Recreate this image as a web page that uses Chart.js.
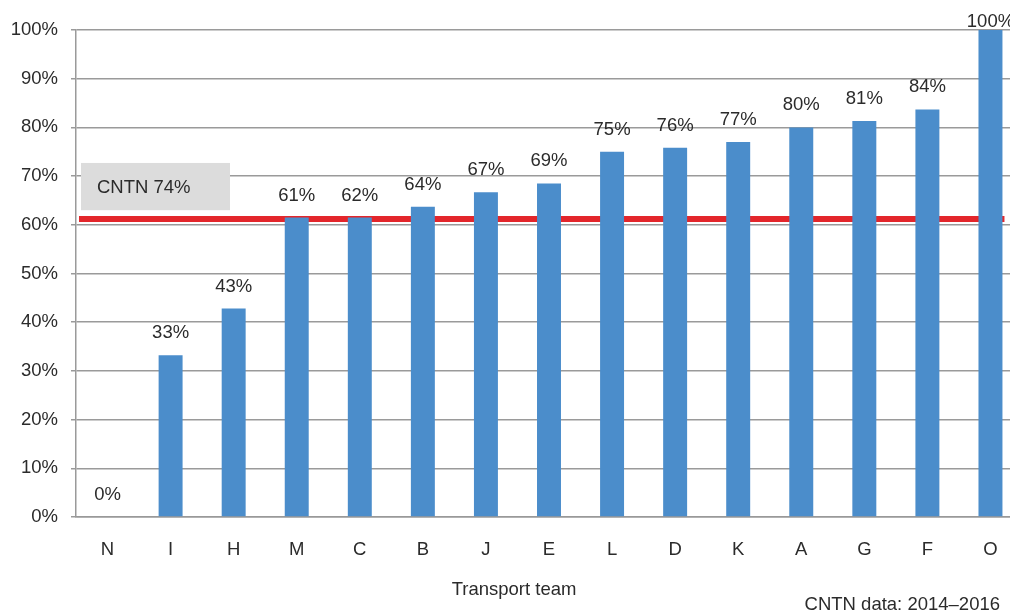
<!DOCTYPE html>
<html>
<head>
<meta charset="utf-8">
<script src="https://cdn.jsdelivr.net/npm/chart.js@4/dist/chart.umd.min.js"></script>
<style>
html,body{margin:0;padding:0;background:#fff;overflow:hidden;width:1010px;height:614px;}
#wrap{width:1022px;height:614px;}
</style>
</head>
<body>
<div id="wrap"><canvas id="c" width="1022" height="614"></canvas></div>
<script>
const categories = ["N","I","H","M","C","B","J","E","L","D","K","A","G","F","O"];
const values = [0, 33.2, 42.8, 61.5, 61.5, 63.7, 66.7, 68.5, 75, 75.8, 77, 80, 81.3, 83.7, 100];
const valueLabels = ["0%","33%","43%","61%","62%","64%","67%","69%","75%","76%","77%","80%","81%","84%","100%"];
const yTicks = [0,10,20,30,40,50,60,70,80,90,100];
const referenceValue = 61.2;
const referenceText = "CNTN 74%";
const referenceBoxRange = [63.0, 72.7];
const axisTitle = "Transport team";
const sourceNote = "CNTN data: 2014\u20132016";

const FONT = '"Liberation Sans", Arial, Helvetica, sans-serif';
const TEXT = '#2b2b2b';
const FS = 18.5;

const overlay = {
  id: 'overlay',
  beforeDatasetsDraw(chart) {
    const {ctx, chartArea, scales} = chart;
    const y = scales.y, x = scales.x;
    ctx.save();
    const bt = y.getPixelForValue(referenceBoxRange[1]);
    const bb = y.getPixelForValue(referenceBoxRange[0]);
    ctx.fillStyle = '#dcdcdc';
    ctx.fillRect(chartArea.left + 5, bt, 149, bb - bt);
    ctx.fillStyle = TEXT;
    ctx.font = FS + 'px ' + FONT;
    ctx.textBaseline = 'middle';
    ctx.textAlign = 'left';
    ctx.fillText(referenceText, chartArea.left + 21, (bt + bb) / 2 + 1);
    const ry = y.getPixelForValue(referenceValue);
    ctx.strokeStyle = '#e3262b';
    ctx.lineWidth = 6;
    ctx.beginPath();
    ctx.moveTo(chartArea.left + 3, ry);
    ctx.lineTo(x.getPixelForValue(categories.length - 1) + 14, ry);
    ctx.stroke();
    ctx.restore();
  },
  afterDatasetsDraw(chart) {
    const {ctx} = chart;
    const meta = chart.getDatasetMeta(0);
    ctx.save();
    ctx.fillStyle = TEXT;
    ctx.font = FS + 'px ' + FONT;
    ctx.textAlign = 'center';
    ctx.textBaseline = 'middle';
    meta.data.forEach((bar, i) => {
      const ty = Math.max(bar.y - 22, 22);
      ctx.fillText(valueLabels[i], bar.x, ty);
    });
    ctx.restore();
  },
  afterDraw(chart) {
    const {ctx} = chart;
    ctx.save();
    ctx.fillStyle = TEXT;
    ctx.font = FS + 'px ' + FONT;
    ctx.textBaseline = 'middle';
    ctx.textAlign = 'center';
    ctx.fillText(axisTitle, 514, 590);
    ctx.textAlign = 'right';
    ctx.fillText(sourceNote, 1000, 605);
    ctx.restore();
  }
};

new Chart(document.getElementById('c'), {
  type: 'bar',
  data: {
    labels: categories,
    datasets: [{
      data: values,
      backgroundColor: '#4b8dcb',
      borderWidth: 0,
      categoryPercentage: 1,
      barPercentage: 0.38
    }]
  },
  options: {
    responsive: false,
    animation: false,
    layout: {padding: {top: 30, left: 0, right: 0, bottom: 0}},
    plugins: {legend: {display: false}, tooltip: {enabled: false}},
    scales: {
      x: {
        grid: {display: false, drawTicks: false},
        border: {display: true, color: '#999999', width: 1.5},
        ticks: {color: TEXT, font: {family: FONT, size: FS}, padding: 22, maxRotation: 0},
        afterFit(scale) { scale.height = 97; }
      },
      y: {
        min: 0, max: 100,
        afterBuildTicks(scale) { scale.ticks = yTicks.map(v => ({value: v})); },
        grid: {color: '#9a9a9a', lineWidth: 1.5, tickLength: 5},
        border: {display: true, color: '#9a9a9a', width: 1.5},
        ticks: {color: TEXT, font: {family: FONT, size: FS}, padding: 13, callback: v => v + '%'},
        afterFit(scale) { scale.width = 76; }
      }
    }
  },
  plugins: [overlay]
});
</script>
</body>
</html>
